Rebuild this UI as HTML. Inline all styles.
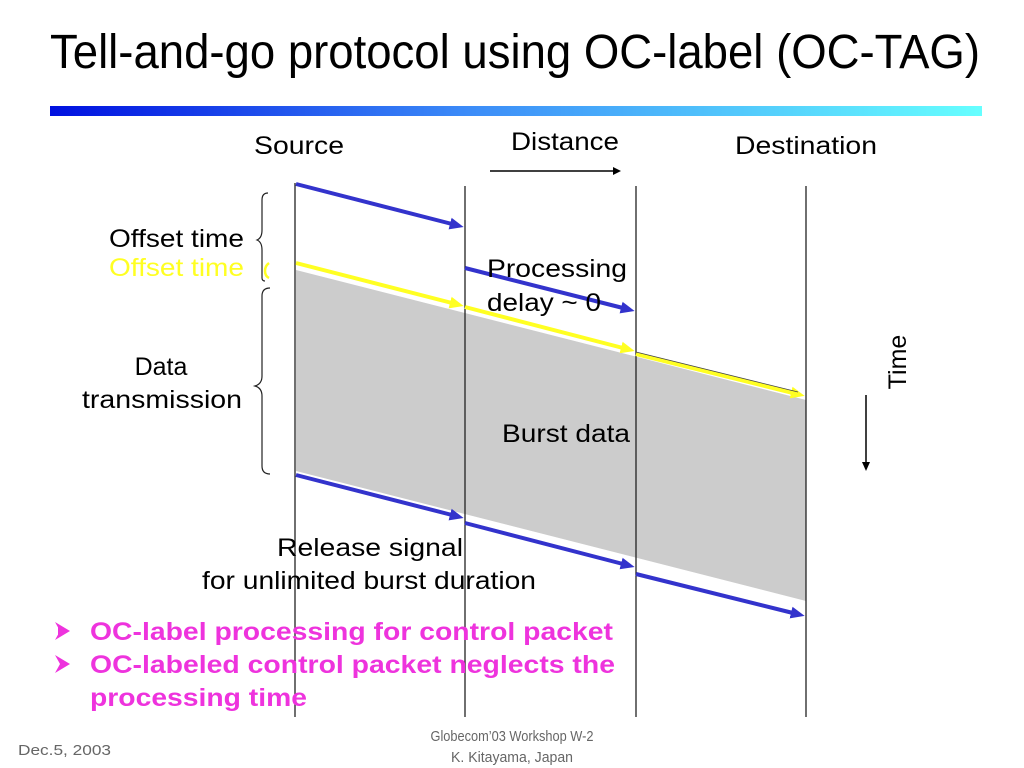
<!DOCTYPE html>
<html><head><meta charset="utf-8"><style>
html,body{margin:0;padding:0;background:#fff;}
svg{display:block;font-family:"Liberation Sans",Arial,sans-serif;}
</style></head><body>
<svg width="1024" height="768" viewBox="0 0 1024 768" xmlns="http://www.w3.org/2000/svg">
<defs>
<linearGradient id="g" x1="0" x2="1" y1="0" y2="0">
<stop offset="0" stop-color="#0010e0"/><stop offset="0.45" stop-color="#3c8cf8"/><stop offset="1" stop-color="#66ffff"/>
</linearGradient>
<marker id="ab" markerWidth="16" markerHeight="12" refX="2" refY="6" orient="auto" markerUnits="userSpaceOnUse"><path d="M0,0 L14,6 L0,12 z" fill="#3333cc"/></marker>
<marker id="ay" markerWidth="16" markerHeight="12" refX="2" refY="6" orient="auto" markerUnits="userSpaceOnUse"><path d="M0,0 L14,6 L0,12 z" fill="#ffff22"/></marker>
</defs>
<text x="50" y="68" font-size="48" textLength="930" lengthAdjust="spacingAndGlyphs">Tell-and-go protocol using OC-label (OC-TAG)</text>
<rect x="50" y="106" width="932" height="10" fill="url(#g)"/>
<text x="299" y="154" font-size="25" text-anchor="middle" textLength="90" lengthAdjust="spacingAndGlyphs">Source</text>
<text x="565" y="150" font-size="25" text-anchor="middle" textLength="108" lengthAdjust="spacingAndGlyphs">Distance</text>
<text x="806" y="154" font-size="25" text-anchor="middle" textLength="142" lengthAdjust="spacingAndGlyphs">Destination</text>
<line x1="490" y1="171" x2="614" y2="171" stroke="#000" stroke-width="1.5"/>
<path d="M613,167 L621,171 L613,175 z" fill="#000"/>
<polygon points="296,270 806,400 806,601 296,471" fill="#cccccc"/>
<g stroke="#222" stroke-width="1.3">
<line x1="295" y1="183" x2="295" y2="717"/>
<line x1="465" y1="186" x2="465" y2="717"/>
<line x1="636" y1="186" x2="636" y2="717"/>
<line x1="806" y1="186" x2="806" y2="717"/>
</g>
<g stroke="#3333cc" stroke-width="4" marker-end="url(#ab)">
<line x1="296" y1="184" x2="452" y2="224"/>
<line x1="465" y1="268" x2="623" y2="308"/>
<line x1="296" y1="475" x2="452" y2="515"/>
<line x1="465" y1="523" x2="623" y2="564"/>
<line x1="636" y1="574" x2="793" y2="613"/>
</g>
<g stroke="#ffff22" stroke-width="4" marker-end="url(#ay)">
<line x1="296" y1="263" x2="452" y2="303"/>
<line x1="465" y1="307" x2="623" y2="348"/>
<line x1="636" y1="354" x2="793" y2="393"/>
</g>
<line x1="636" y1="352" x2="798" y2="392" stroke="#444" stroke-width="0.8"/>
<text x="487" y="277" font-size="25" textLength="140" lengthAdjust="spacingAndGlyphs">Processing</text>
<text x="487" y="311" font-size="25" textLength="114" lengthAdjust="spacingAndGlyphs">delay ~ 0</text>
<text x="502" y="442" font-size="25" textLength="128" lengthAdjust="spacingAndGlyphs">Burst data</text>
<text x="244" y="247" font-size="25" text-anchor="end" textLength="135" lengthAdjust="spacingAndGlyphs">Offset time</text>
<text x="244" y="276" font-size="25" text-anchor="end" fill="#ffff22" textLength="135" lengthAdjust="spacingAndGlyphs">Offset time</text>
<text x="161" y="375" font-size="25" text-anchor="middle">Data</text>
<text x="162" y="408" font-size="25" text-anchor="middle" textLength="160" lengthAdjust="spacingAndGlyphs">transmission</text>
<path d="M268,193 Q262,193 262,200 L262,230 Q262,238 257,240 Q262,242 262,250 L262,278 Q262,281 265,281" fill="none" stroke="#222" stroke-width="1.2"/>
<path d="M269,263 Q265,266 265,271 Q265,276 269,278" fill="none" stroke="#ffff22" stroke-width="2.5"/>
<path d="M270,288 Q262,288 262,296 L262,376 Q262,384 255,386 Q262,388 262,396 L262,466 Q262,474 270,474" fill="none" stroke="#222" stroke-width="1.2"/>
<text x="370" y="556" font-size="25" text-anchor="middle" textLength="186" lengthAdjust="spacingAndGlyphs">Release signal</text>
<text x="369" y="589" font-size="25" text-anchor="middle" textLength="334" lengthAdjust="spacingAndGlyphs">for unlimited burst duration</text>
<text x="897" y="362" font-size="25" text-anchor="middle" transform="rotate(-90 897 362)" dy="9">Time</text>
<line x1="866" y1="395" x2="866" y2="463" stroke="#000" stroke-width="1.5"/>
<path d="M862,462 L866,471 L870,462 z" fill="#000"/>
<g fill="#ee33dd">
<path d="M55,622 L70,631 L55,640 L60,631 z M58,627 L63,631 L58,635" fill="#ee33dd"/>
<path d="M55,655 L70,664 L55,673 L60,664 z" fill="#ee33dd"/>
</g>
<g fill="#ee33dd" font-weight="bold" font-size="25">
<text x="90" y="640" textLength="523" lengthAdjust="spacingAndGlyphs">OC-label processing for control packet</text>
<text x="90" y="673" textLength="525" lengthAdjust="spacingAndGlyphs">OC-labeled control packet neglects the</text>
<text x="90" y="706" textLength="217" lengthAdjust="spacingAndGlyphs">processing time</text>
</g>
<g fill="#666" font-size="15">
<text x="18" y="755" textLength="93" lengthAdjust="spacingAndGlyphs">Dec.5, 2003</text>
<text x="512" y="741" text-anchor="middle" textLength="163" lengthAdjust="spacingAndGlyphs">Globecom’03 Workshop W-2</text>
<text x="512" y="762" text-anchor="middle" textLength="122" lengthAdjust="spacingAndGlyphs">K. Kitayama, Japan</text>
</g>
</svg>
</body></html>
